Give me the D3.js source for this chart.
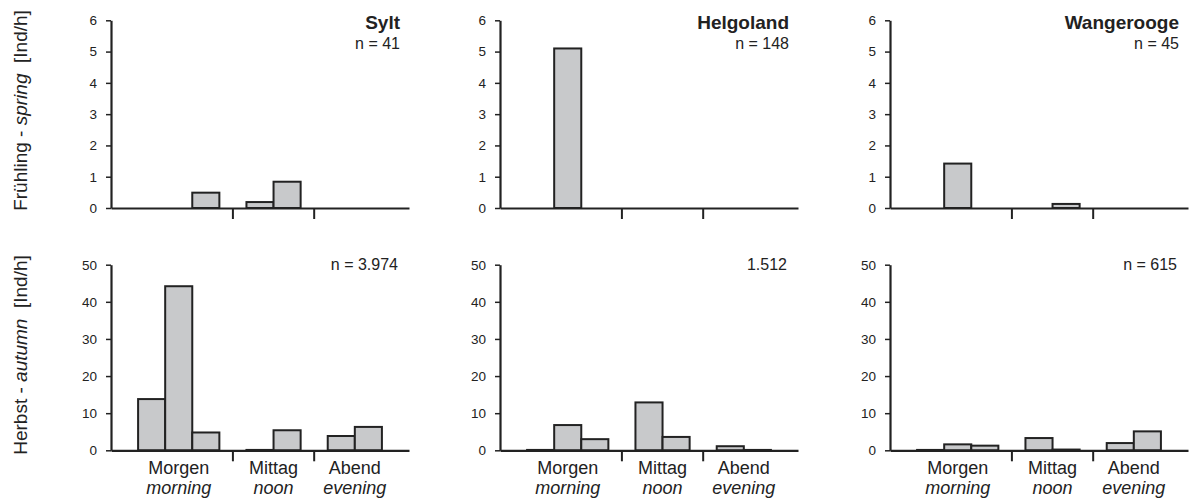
<!DOCTYPE html>
<html><head><meta charset="utf-8">
<script src="https://cdn.jsdelivr.net/npm/d3@7"></script>
<style>
body{margin:0;background:#fff}
text{font-family:"Liberation Sans",Arial,sans-serif;fill:#222}
</style></head><body>
<script>
// ---- data ----
const sites = ["Sylt", "Helgoland", "Wangerooge"];
const seasonsDe = ["Frühling", "Herbst"];
const seasonsEn = ["spring", "autumn"];
const periodsDe = ["Morgen", "Mittag", "Abend"];
const periodsEn = ["morning", "noon", "evening"];
const barsPerPeriod = [3, 2, 2];
const springTicks = [0, 1, 2, 3, 4, 5, 6];
const autumnTicks = [0, 10, 20, 30, 40, 50];
const springCounts = ["n = 41", "n = 148", "n = 45"];
const autumnCounts = ["n = 3.974", "1.512", "n = 615"];
const syltSpring       = [0, 0, 0.49,   0.19, 0.84,  0, 0];
const helgolandSpring  = [0, 5.1, 0,    0, 0,        0, 0];
const wangeroogeSpring = [0, 1.42, 0,   0, 0.13,     0, 0];
const syltAutumn       = [13.8, 44.2, 4.8,  0.1, 5.4,  3.85, 6.3];
const helgolandAutumn  = [0.1, 6.8, 3.0,    12.9, 3.6, 1.1, 0.1];
const wangeroogeAutumn = [0.1, 1.6, 1.25,   3.3, 0.2,  1.95, 5.1];

const springValues = [syltSpring, helgolandSpring, wangeroogeSpring];
const autumnValues = [syltAutumn, helgolandAutumn, wangeroogeAutumn];

// ---- layout ----
const W = 1195, H = 502;
const panelLeft = [111, 500, 890];
const panelWidth = 298;
const rows = [
  {bottom: 208, top: 20.3, ticks: springTicks, values: springValues, counts: springCounts, labelCenter: 110.5},
  {bottom: 450.3, top: 264.7, ticks: autumnTicks, values: autumnValues, counts: autumnCounts, labelCenter: 355}
];
const ink = "#222";
const barFill = "#c8c9cb";

// slot domain: lead, period bars, gaps, trail
const slots = ["lead"];
const barSlots = [];
const gapSlots = [];
barsPerPeriod.forEach((n, p) => {
  for (let i = 0; i < n; i++) { const k = periodsDe[p] + "-" + i; slots.push(k); barSlots.push(k); }
  if (p < barsPerPeriod.length - 1) { const g = "gap-" + p; slots.push(g); gapSlots.push(g); }
});
slots.push("trail");

const svg = d3.select("body").append("svg").attr("width", W).attr("height", H);

rows.forEach((row, r) => {
  const y = d3.scaleLinear().domain([0, d3.max(row.ticks)]).range([row.bottom, row.top]);
  sites.forEach((site, c) => {
    const x0 = panelLeft[c];
    const x = d3.scaleBand().domain(slots).range([x0, x0 + panelWidth]).paddingInner(0).paddingOuter(0);
    const g = svg.append("g");

    // bars
    g.selectAll("rect.bar").data(row.values[c]).join("rect")
      .attr("class", "bar")
      .attr("x", (d, i) => x(barSlots[i]))
      .attr("width", x.bandwidth())
      .attr("y", d => y(d))
      .attr("height", d => y(0) - y(d))
      .attr("fill", barFill)
      .attr("stroke", ink)
      .attr("stroke-width", 2);

    // x axis
    const xa = g.append("g").attr("transform", `translate(0,${y(0)})`)
      .call(d3.axisBottom(x).tickValues(gapSlots).tickFormat("").tickSize(11).tickSizeOuter(0));
    xa.select(".domain").attr("stroke", ink).attr("stroke-width", 2.2);
    xa.selectAll(".tick line").attr("stroke", ink).attr("stroke-width", 2);

    // y axis
    const ya = g.append("g").attr("transform", `translate(${x0},0)`)
      .call(d3.axisLeft(y).tickValues(row.ticks).tickFormat(d3.format("d"))
        .tickSize(5).tickSizeOuter(0).tickPadding(9));
    ya.select(".domain").attr("stroke", ink).attr("stroke-width", 2.2);
    ya.selectAll(".tick line").attr("stroke", ink).attr("stroke-width", 1.5);
    ya.selectAll(".tick text").style("font-family", '"Liberation Sans",Arial,sans-serif')
      .style("font-size", "13.5px").attr("fill", ink);

    // titles
    const right = x0 + panelWidth - 9;
    if (r === 0) {
      g.append("text").attr("x", right).attr("y", 29).attr("text-anchor", "end")
        .style("font-size", "19px").style("font-weight", "bold").text(site);
      g.append("text").attr("x", right).attr("y", 49).attr("text-anchor", "end")
        .style("font-size", "16px").text(row.counts[c]);
    } else {
      g.append("text").attr("x", right - 2).attr("y", 270).attr("text-anchor", "end")
        .style("font-size", "16px").text(row.counts[c]);
      // category labels
      let idx = 0;
      periodsDe.forEach((pd, p) => {
        const first = barSlots[idx], last = barSlots[idx + barsPerPeriod[p] - 1];
        idx += barsPerPeriod[p];
        const cx = (x(first) + x(last) + x.bandwidth()) / 2;
        g.append("text").attr("x", cx).attr("y", 474).attr("text-anchor", "middle")
          .style("font-size", "18px").text(pd);
        g.append("text").attr("x", cx).attr("y", 494).attr("text-anchor", "middle")
          .style("font-size", "18px").style("font-style", "italic").text(periodsEn[p]);
      });
    }
  });

  // row label
  const lab = svg.append("text")
    .attr("transform", `translate(27,${row.labelCenter}) rotate(-90)`)
    .attr("text-anchor", "middle").style("font-size", "19px");
  lab.append("tspan").text(seasonsDe[r] + " - ");
  lab.append("tspan").style("font-style", "italic").text(seasonsEn[r]);
  lab.append("tspan").text("\u00a0\u00a0[Ind/h]");
});
</script>
</body></html>
